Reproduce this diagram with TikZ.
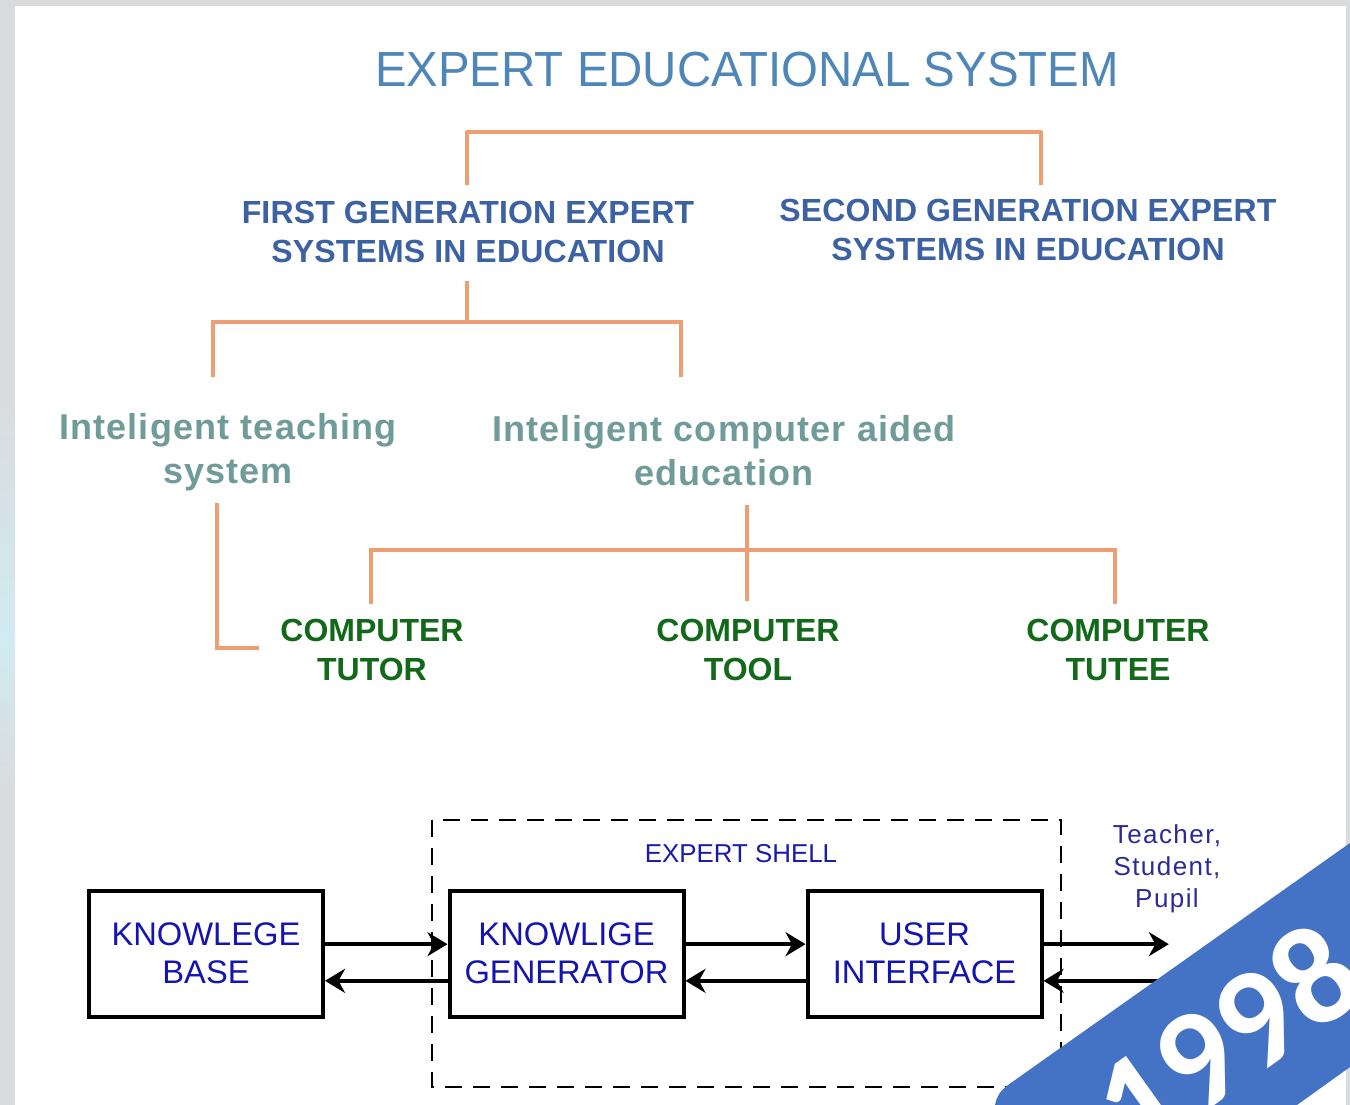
\documentclass[tikz,border=0pt]{standalone}
\usepackage{fontspec}
\setmainfont{Liberation Sans}
\newfontfamily\bannerfont{Carlito}
\newfontfamily\spacedbold[LetterSpace=3.2]{Liberation Sans Bold}
\newfontfamily\spacedpeople[LetterSpace=5.5]{Liberation Sans}
\newfontfamily\genfont[LetterSpace=0.5]{Liberation Sans Bold}
\usetikzlibrary{arrows.meta,calc}
\definecolor{bgc}{HTML}{D9DBDD}
\definecolor{bgblue}{HTML}{D2EAF2}
\definecolor{titlec}{HTML}{4F86B8}
\definecolor{genc}{HTML}{3C62A4}
\definecolor{intc}{HTML}{6F9C98}
\definecolor{compc}{HTML}{12691A}
\definecolor{linec}{HTML}{EE9E72}
\definecolor{boxtxt}{HTML}{1414B0}
\definecolor{shelltxt}{HTML}{1A1AA8}
\definecolor{peoplec}{HTML}{2A2A98}
\definecolor{bannerc}{HTML}{4472C4}
\tikzset{
 lbl/.style={align=center,inner sep=0pt},
 titletxt/.style={lbl,text=titlec,xscale=0.961,font=\fontsize{37pt}{44pt}\selectfont},
 gentxt/.style={lbl,text=genc,font=\fontsize{24pt}{28.6pt}\genfont},
 inttxt/.style={lbl,text=intc,font=\fontsize{27pt}{33.2pt}\spacedbold},
 comptxt/.style={lbl,text=compc,font=\fontsize{24pt}{28.6pt}\bfseries\selectfont},
 orange/.style={draw=linec,line width=2.4pt},
 blockbox/.style={draw=black,line width=3pt,minimum width=175.5pt,minimum height=94.5pt,inner sep=0pt,align=center,text=boxtxt,font=\fontsize{24.5pt}{28.6pt}\selectfont},
 flow/.style={draw=black,line width=2.8pt,-{Stealth[length=15pt,width=18pt]}},
 shell/.style={draw=black,line width=1.5pt,dash pattern=on 13pt off 8pt},
}
\begin{document}
\begin{tikzpicture}[x=0.75pt,y=-0.75pt]
\useasboundingbox (0,0) rectangle (1350,1105);
\fill[bgc] (0,0) rectangle (1350,1105);
\shade[top color=bgc,bottom color=bgblue] (0,380) rectangle (15,640);
\shade[top color=bgblue,bottom color=bgc] (0,640) rectangle (15,800);
\fill[white] (15,6) rectangle (1346,1105);

\node[titletxt] (title) at (747,70) {EXPERT EDUCATIONAL SYSTEM};
\node[gentxt] (first) at (468,232) {FIRST GENERATION EXPERT\\SYSTEMS IN EDUCATION};
\node[gentxt] (second) at (1028,230) {SECOND GENERATION EXPERT\\SYSTEMS IN EDUCATION};
\node[inttxt] (its) at (228,452) {Inteligent teaching\\system};
\node[inttxt] (icae) at (724,450.5) {Inteligent computer aided\\education};
\node[comptxt] (tutor) at (372,650) {COMPUTER\\TUTOR};
\node[comptxt] (tool) at (748,650) {COMPUTER\\TOOL};
\node[comptxt] (tutee) at (1118,650) {COMPUTER\\TUTEE};

\coordinate (a1) at (467,185);
\coordinate (a2) at (1041,185);
\coordinate (a3) at (467,132);
\coordinate (a4) at (1041,132);
\draw[orange,line join=round] (a1) -- (a3) -- (a4) -- (a2);

\coordinate (b0) at (467,281);
\coordinate (b1) at (467,322);
\coordinate (b2) at (213,322);
\coordinate (b3) at (213,377);
\coordinate (b4) at (681,322);
\coordinate (b5) at (681,377);
\draw[orange] (b0) -- (b1);
\draw[orange] (b3) -- (b2) -- (b4) -- (b5);

\coordinate (c1) at (217,503);
\coordinate (c2) at (217,648);
\coordinate (c3) at (259,648);
\draw[orange] (c1) -- (c2) -- (c3);

\coordinate (d0) at (747,505);
\coordinate (d1) at (747,601);
\coordinate (d2) at (371,604);
\coordinate (d3) at (371,550);
\coordinate (d4) at (1115,550);
\coordinate (d5) at (1115,604);
\draw[orange] (d0) -- (d1);
\draw[orange] (d2) -- (d3) -- (d4) -- (d5);

\node[blockbox] (kb) at (206,953.5) {KNOWLEGE\\BASE};
\node[blockbox] (kg) at (566.5,953.5) {KNOWLIGE\\GENERATOR};
\node[blockbox] (ui) at (924.5,953.5) {USER\\INTERFACE};
\node[lbl,text=shelltxt,font=\fontsize{19.4pt}{24pt}\selectfont] (shelltxt) at (741,854) {EXPERT SHELL};
\node[lbl,text=peoplec,font=\fontsize{19.5pt}{24pt}\spacedpeople] (people) at (1167,869) {Teacher,\\Student,\\Pupil};

\draw[shell] (432,820) rectangle (1061,1087);

\draw[flow] ([yshift=7pt]kb.east) -- ([yshift=7pt]kg.west);
\draw[flow] ([yshift=-20.5pt]kg.west) -- ([yshift=-20.5pt]kb.east);
\draw[flow] ([yshift=7pt]kg.east) -- ([yshift=7pt]ui.west);
\draw[flow] ([yshift=-20.5pt]ui.west) -- ([yshift=-20.5pt]kg.east);
\coordinate (out1) at ([xshift=94pt,yshift=7pt]ui.east);
\coordinate (in1) at ([xshift=118pt,yshift=-20.5pt]ui.east);
\draw[flow] ([yshift=7pt]ui.east) -- (out1);
\draw[flow] (in1) -- ([yshift=-20.5pt]ui.east);

\fill[bannerc] (1350,843) -- (1008,1085) .. controls (1000,1091) and (997,1096) .. (995,1105) -- (1297,1105) -- (1350,1067) -- cycle;
\begin{scope}
\clip (0,0) rectangle (1350,1105);
\node[lbl,text=white,rotate=35.5,font=\fontsize{106pt}{106pt}\bannerfont\bfseries\selectfont] (year) at (1227,1038) {1998};
\end{scope}
\end{tikzpicture}
\end{document}
